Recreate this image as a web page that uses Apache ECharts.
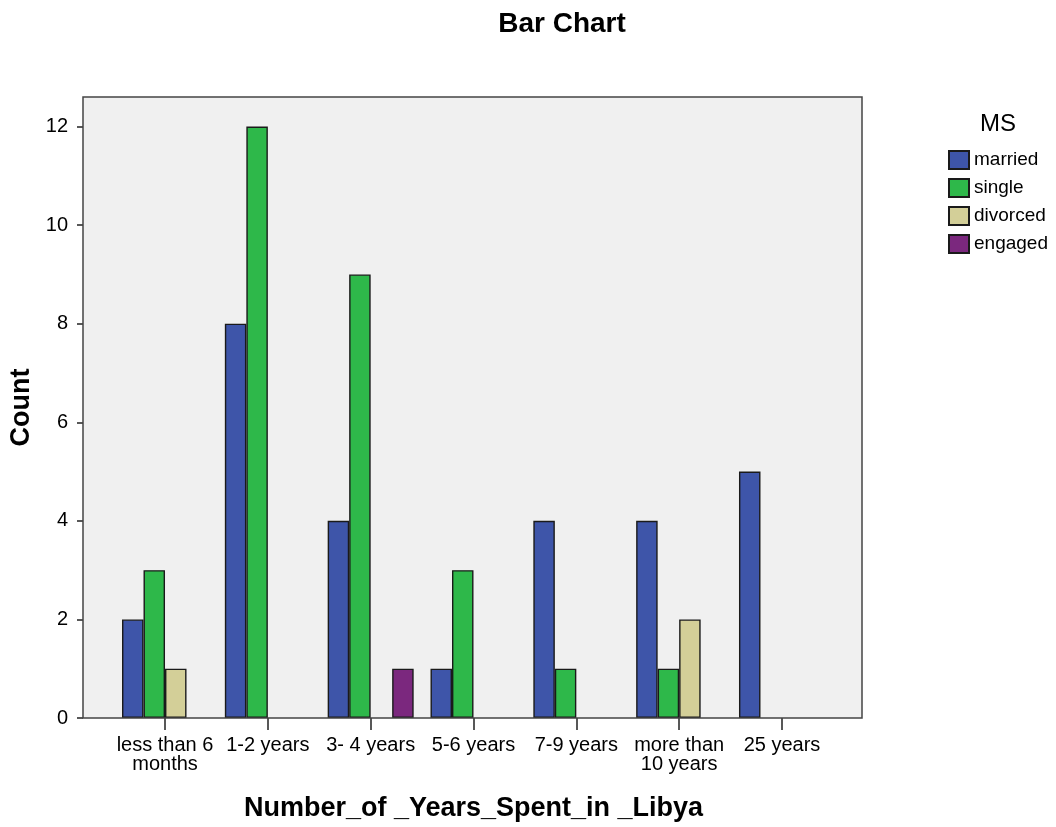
<!DOCTYPE html>
<html>
<head>
<meta charset="utf-8">
<script src="https://cdn.jsdelivr.net/npm/echarts@6/dist/echarts.min.js"></script>
<style>html,body{margin:0;padding:0;background:#fff}#c{width:1056px;height:827px}</style>
</head>
<body>
<div id="c"></div>
<script>
const categories = ["less than 6\nmonths", "1-2 years", "3- 4 years", "5-6 years", "7-9 years", "more than\n10 years", "25 years"];
const married  = [2, 8, 4, 1, 4, 4, 5];
const single   = [3, 12, 9, 3, 1, 1, 0];
const divorced = [1, 0, 0, 0, 0, 2, 0];
const engaged  = [0, 0, 1, 0, 0, 0, 0];
const seriesNames = ["married", "single", "divorced", "engaged"];
const yTicks = [0, 2, 4, 6, 8, 10, 12];

const colors = ["#3E55A9", "#2EB84A", "#D3CF98", "#7B287E"];
const FONT = "'Liberation Sans', Arial, sans-serif";

const chart = echarts.init(document.getElementById('c'), null, {renderer: 'canvas'});
const toBar = arr => arr.map(v => v === 0 ? null : v);
const dataSets = [married, single, divorced, engaged];

const plotL = 83, plotR = 862, plotT = 97, plotB = 718;

chart.setOption({
  backgroundColor: '#ffffff',
  animation: false,
  title: {
    text: 'Bar Chart',
    left: 562, top: 10, textAlign: 'center', padding: 0,
    textStyle: {fontFamily: FONT, fontSize: 28, fontWeight: 'bold', color: '#000'}
  },
  legend: {
    orient: 'vertical',
    left: 948, top: 150, padding: 0,
    itemWidth: 20, itemHeight: 18, itemGap: 8,
    icon: 'rect',
    textStyle: {fontFamily: FONT, fontSize: 19, color: '#000'},
    data: seriesNames
  },
  grid: {left: 113.6, right: 222.6, top: plotT, bottom: 827 - plotB, containLabel: false, outerBoundsMode: 'none'},
  xAxis: {
    type: 'category',
    data: categories,
    axisLine: {show: false},
    axisTick: {show: true, alignWithLabel: true, length: 12, lineStyle: {color: '#222', width: 1.5}},
    axisLabel: {fontFamily: FONT, fontSize: 20, color: '#000', margin: 18, lineHeight: 19, interval: 0},
    name: 'Number_of _Years_Spent_in _Libya',
    nameLocation: 'middle', nameGap: 77,
    nameTextStyle: {fontFamily: FONT, fontSize: 27, fontWeight: 'bold', color: '#000'}
  },
  yAxis: {
    type: 'value', min: 0, max: 12.6,
    offset: 30.6,
    axisLine: {show: false},
    splitLine: {show: false},
    axisTick: {show: true, length: 6, customValues: yTicks, lineStyle: {color: '#222', width: 1.5}},
    axisLabel: {fontFamily: FONT, fontSize: 20, color: '#000', margin: 15, customValues: yTicks},
    name: 'Count', nameLocation: 'middle', nameGap: 46,
    nameTextStyle: {fontFamily: FONT, fontSize: 27, fontWeight: 'bold', color: '#000'}
  },
  graphic: [
    {type: 'rect', z: -10, silent: true,
     shape: {x: plotL, y: plotT, width: plotR - plotL, height: plotB - plotT},
     style: {fill: '#F0F0F0', stroke: null}},
    {type: 'rect', z: 100, silent: true,
     shape: {x: plotL, y: plotT, width: plotR - plotL, height: plotB - plotT},
     style: {fill: null, stroke: '#444', lineWidth: 1.5}},
    {type: 'text', left: 980, top: 112, silent: true,
     style: {text: 'MS', fontFamily: FONT, fontSize: 24, fill: '#000'}}
  ],
  series: seriesNames.map((n, i) => ({
    name: n, type: 'bar',
    data: toBar(dataSets[i]),
    barWidth: 21.5, barGap: '0%',
    itemStyle: {color: colors[i], borderColor: '#1a1a1a', borderWidth: 1.4}
  }))
});
</script>
</body>
</html>
